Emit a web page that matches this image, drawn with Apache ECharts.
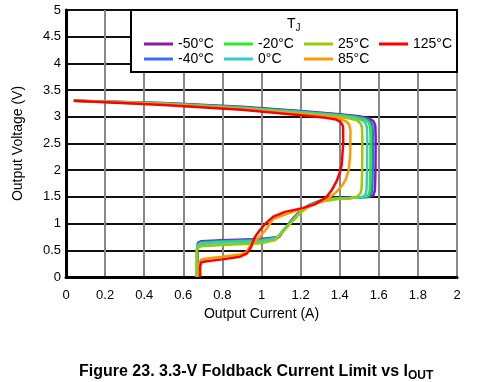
<!DOCTYPE html>
<html><head><meta charset="utf-8">
<script src="https://cdn.jsdelivr.net/npm/echarts@6/dist/echarts.min.js"></script>
<style>html,body{margin:0;padding:0;background:#fff}#c{width:478px;height:382px}</style>
</head><body><div id="c"></div>
<script>
// Output current (A), output voltage (V) pairs per junction temperature
const tjM50 = [[0.04,3.30],[0.5,3.26],[0.9,3.19],[1.2,3.11],[1.4,3.05],[1.5,3.01],[1.55,2.97],[1.572,2.92],[1.582,2.84],[1.584,2.6],[1.583,2.0],[1.58,1.62],[1.572,1.53],[1.55,1.50],[1.45,1.49],[1.38,1.48],[1.3,1.43],[1.25,1.36],[1.2,1.25],[1.15,1.05],[1.11,0.86],[1.09,0.75],[1.0,0.71],[0.8,0.69],[0.69,0.67],[0.675,0.64],[0.672,0.5],[0.672,0]];
const tjM40 = [[0.04,3.30],[0.5,3.255],[0.9,3.18],[1.2,3.10],[1.4,3.04],[1.49,3.0],[1.54,2.96],[1.558,2.91],[1.568,2.83],[1.570,2.6],[1.569,2.0],[1.566,1.62],[1.558,1.53],[1.54,1.50],[1.45,1.485],[1.38,1.475],[1.3,1.425],[1.25,1.355],[1.2,1.24],[1.15,1.04],[1.11,0.85],[1.085,0.74],[1.0,0.70],[0.8,0.675],[0.69,0.655],[0.674,0.62],[0.671,0.5],[0.671,0]];
const tjM20 = [[0.04,3.30],[0.5,3.25],[0.9,3.17],[1.2,3.09],[1.4,3.03],[1.48,2.99],[1.53,2.95],[1.547,2.90],[1.556,2.82],[1.558,2.6],[1.557,2.0],[1.554,1.62],[1.546,1.53],[1.53,1.50],[1.45,1.48],[1.38,1.47],[1.3,1.42],[1.25,1.35],[1.2,1.23],[1.15,1.03],[1.105,0.84],[1.08,0.73],[1.0,0.685],[0.8,0.66],[0.69,0.635],[0.673,0.60],[0.670,0.5],[0.670,0]];
const tj0 = [[0.04,3.30],[0.5,3.245],[0.9,3.16],[1.2,3.08],[1.4,3.02],[1.47,2.98],[1.515,2.94],[1.531,2.89],[1.539,2.81],[1.541,2.6],[1.540,2.0],[1.537,1.62],[1.53,1.53],[1.515,1.50],[1.45,1.475],[1.38,1.465],[1.3,1.415],[1.25,1.345],[1.2,1.22],[1.15,1.02],[1.10,0.83],[1.075,0.72],[1.0,0.67],[0.8,0.64],[0.69,0.615],[0.672,0.58],[0.669,0.5],[0.669,0]];
const tj25 = [[0.04,3.30],[0.5,3.24],[0.9,3.15],[1.2,3.06],[1.4,3.0],[1.45,2.97],[1.49,2.93],[1.506,2.88],[1.514,2.80],[1.516,2.6],[1.515,2.0],[1.512,1.65],[1.505,1.56],[1.49,1.51],[1.45,1.47],[1.38,1.455],[1.3,1.41],[1.25,1.34],[1.2,1.21],[1.15,1.01],[1.10,0.81],[1.07,0.69],[1.0,0.63],[0.8,0.60],[0.69,0.575],[0.671,0.54],[0.668,0.45],[0.668,0]];
const tj85 = [[0.04,3.30],[0.5,3.23],[0.9,3.14],[1.2,3.05],[1.35,3.0],[1.40,2.97],[1.43,2.92],[1.448,2.86],[1.455,2.75],[1.454,2.3],[1.446,2.0],[1.43,1.82],[1.414,1.72],[1.38,1.58],[1.33,1.44],[1.26,1.34],[1.16,1.22],[1.06,1.09],[1.025,0.90],[0.99,0.75],[0.946,0.62],[0.925,0.47],[0.89,0.42],[0.8,0.38],[0.72,0.345],[0.69,0.325],[0.683,0.25],[0.682,0]];
const tj125 = [[0.04,3.30],[0.5,3.22],[0.9,3.13],[1.2,3.03],[1.33,2.98],[1.38,2.95],[1.405,2.90],[1.417,2.82],[1.418,2.5],[1.41,2.1],[1.40,1.95],[1.385,1.8],[1.36,1.63],[1.335,1.51],[1.30,1.42],[1.27,1.36],[1.21,1.29],[1.12,1.22],[1.06,1.13],[1.02,1.0],[0.99,0.87],[0.965,0.74],[0.945,0.55],[0.925,0.44],[0.89,0.38],[0.8,0.33],[0.72,0.295],[0.692,0.275],[0.686,0.2],[0.686,0]];

const seriesNames = ['-50°C','-40°C','-20°C','0°C','25°C','85°C','125°C'];
const seriesData = [tjM50, tjM40, tjM20, tj0, tj25, tj85, tj125];
const seriesColors = ['#8A1BA6','#3A6BFF','#22EE22','#33CCCC','#99CC00','#FF9900','#FF0000'];
const xTicks = {min:0, max:2, interval:0.2};
const yTicks = {min:0, max:5, interval:0.5};

const chart = echarts.init(document.getElementById('c'));
const font = 'Liberation Sans, Arial, sans-serif';
const legendCols = [
  {names:['-50°C','-40°C'], left:139},
  {names:['-20°C','0°C'], left:219},
  {names:['25°C','85°C'], left:299},
  {names:['125°C'], left:374}
];
chart.setOption({
  animation:false,
  textStyle:{fontFamily:font},
  grid:{left:66, right:21, top:10, bottom:105, show:true, borderColor:'#000', borderWidth:2, backgroundColor:'transparent'},
  xAxis:{type:'value', min:xTicks.min, max:xTicks.max, interval:xTicks.interval,
    axisLine:{show:true, onZero:false, lineStyle:{color:'#000', width:3}},
    axisTick:{show:false},
    axisLabel:{color:'#000', fontSize:13, margin:12, fontFamily:font},
    splitLine:{show:true, lineStyle:{color:'#888', width:2}},
    name:'Output Current (A)', nameLocation:'middle', nameGap:27,
    nameTextStyle:{color:'#000', fontSize:14, fontFamily:font}},
  yAxis:{type:'value', min:yTicks.min, max:yTicks.max, interval:yTicks.interval,
    axisLine:{show:true, onZero:false, lineStyle:{color:'#000', width:3}},
    axisTick:{show:false},
    axisLabel:{color:'#000', fontSize:13, margin:5, fontFamily:font},
    splitLine:{show:true, lineStyle:{color:'#111', width:2}},
    name:'Output Voltage (V)', nameLocation:'middle', nameGap:41,
    nameTextStyle:{color:'#000', fontSize:14, fontFamily:font}},
  title:{text:'{a|Figure 23. 3.3-V Foldback Current Limit vs I}{b|OUT}', left:74, top:357,
    textStyle:{rich:{a:{fontSize:16, fontWeight:'bold', color:'#000', fontFamily:font, lineHeight:20},
      b:{fontSize:12, fontWeight:'bold', color:'#000', fontFamily:font, lineHeight:20, verticalAlign:'bottom', padding:[6,0,0,0]}}}},
  graphic:[
    {type:'rect', z:100, shape:{x:131, y:10, width:326, height:62}, style:{fill:'#fff', stroke:'#000', lineWidth:2}},
    {type:'text', z:101, left:287, top:17, style:{rich:{t:{fontSize:14, fill:'#000', fontFamily:font, lineHeight:18}, s:{fontSize:10, fill:'#000', fontFamily:font, lineHeight:18, verticalAlign:'bottom', padding:[5,0,0,0]}}, text:'{t|T}{s|J}'}}
  ],
  legend: legendCols.map(c => ({data:c.names, orient:'vertical', left:c.left, top:32, z:110, icon:'rect',
    itemWidth:29, itemHeight:3, itemGap:1, textStyle:{color:'#000', fontSize:14, fontFamily:font}, selectedMode:false})),
  series: seriesNames.map((n,i) => ({name:n, type:'line', data:seriesData[i], showSymbol:false, symbol:'none',
    lineStyle:{color:seriesColors[i], width:2.5}, itemStyle:{color:seriesColors[i]}, smooth:false, z:2+i}))
});
</script></body></html>
